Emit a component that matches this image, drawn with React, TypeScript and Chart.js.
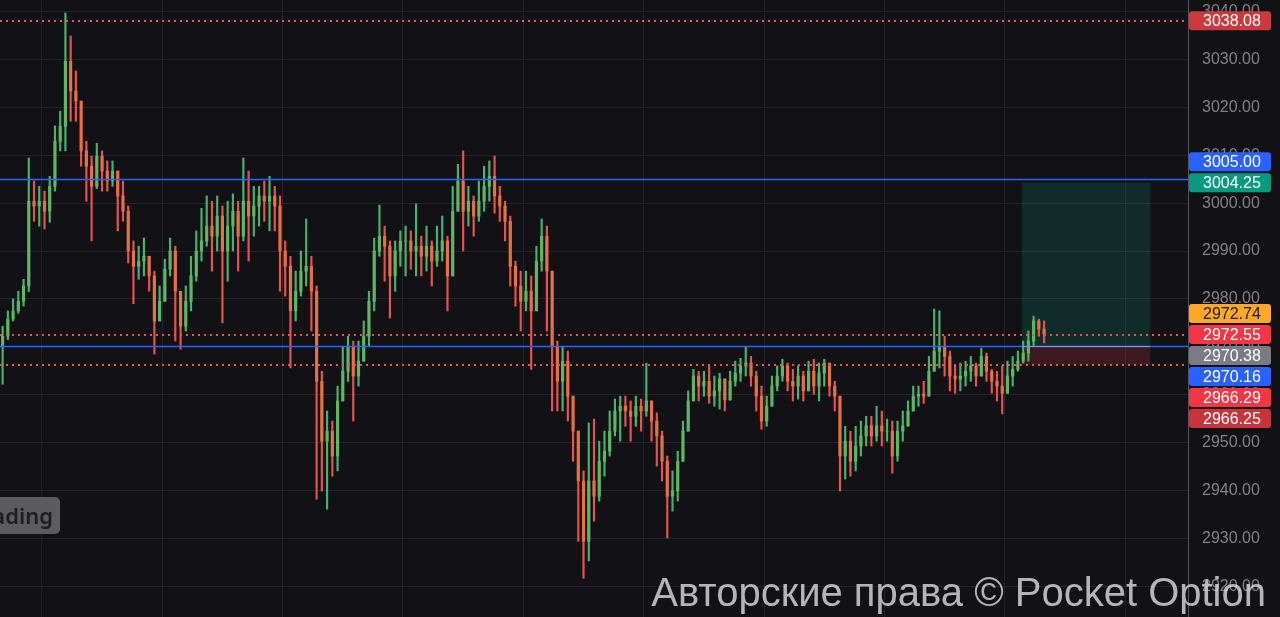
import React, { useEffect, useRef } from "react";
import { Chart, registerables } from "chart.js";

Chart.register(...registerables);

// ---- data ----
const FIRST_OPEN = 2970.0;

const CLOSES = [
  2972.2, 2975.8, 2977.5, 2979.5, 2982.7, 3000.4, 2999.4, 3000.4, 2998.3, 3003.5,
  3012.9, 3016.0, 3029.6, 3023.4, 3021.3, 3010.9, 3007.7, 3003.5, 3009.8, 3006.7,
  3004.6, 3006.7, 3001.5, 2998.3, 2990.0, 2986.8, 2987.9, 2988.9, 2984.8, 2975.4,
  2979.5, 2986.2, 2990.0, 2981.6, 2974.3, 2979.5, 2984.8, 2990.0, 2992.1, 2995.2,
  2993.1, 2997.3, 2990.0, 2995.2, 2998.3, 2993.1, 3000.4, 2997.3, 2999.4, 3001.5,
  3000.4, 3001.5, 2999.4, 2990.0, 2986.8, 2977.5, 2981.6, 2985.8, 2986.8, 2981.6,
  2962.8, 2950.3, 2952.4, 2947.2, 2958.7, 2964.9, 2970.1, 2963.9, 2967.0, 2972.2,
  2979.5, 2990.0, 2993.1, 2991.0, 2984.8, 2990.0, 2992.1, 2992.1, 2990.0, 2991.0,
  2988.9, 2991.0, 2987.9, 2990.0, 2992.1, 2984.8, 2998.3, 3004.6, 2998.3, 3000.4,
  2997.3, 3000.4, 3003.5, 3005.6, 3001.5, 2999.4, 2996.2, 2986.8, 2982.7, 2979.5,
  2981.6, 2977.5, 2987.9, 2993.1, 2985.8, 2970.1, 2962.8, 2967.0, 2959.7, 2952.4,
  2942.0, 2929.4, 2942.0, 2938.8, 2946.1, 2948.2, 2952.4, 2956.6, 2957.6, 2956.6,
  2955.5, 2957.6, 2956.6, 2958.7, 2954.5, 2951.4, 2946.1, 2938.8, 2939.9, 2946.1,
  2952.4, 2958.7, 2963.9, 2961.8, 2962.8, 2959.7, 2960.8, 2963.3, 2958.9, 2962.8,
  2964.5, 2966.0, 2966.6, 2963.9, 2959.7, 2954.5, 2957.6, 2961.8, 2963.9, 2966.0,
  2962.8, 2961.8, 2963.9, 2960.8, 2964.9, 2961.8, 2964.5, 2966.6, 2961.8, 2959.7,
  2947.2, 2950.3, 2946.1, 2949.3, 2951.4, 2953.5, 2951.4, 2953.5, 2952.4, 2952.4,
  2947.2, 2952.4, 2953.5, 2956.6, 2959.7, 2960.1, 2959.7, 2964.9, 2969.1, 2970.1,
  2968.0, 2963.9, 2963.3, 2963.9, 2964.9, 2966.0, 2963.9, 2968.0, 2964.9, 2962.8,
  2961.8, 2960.3, 2963.9, 2965.3, 2967.0, 2968.7, 2971.2, 2975.4, 2973.7, 2972.6,
];

const HIGHS = [
  2974.3, 2977.5, 2980.0, 2981.6, 2984.1, 3009.4, 3004.6, 3003.5, 3002.5, 3005.6,
  3016.1, 3019.2, 3039.7, 3034.9, 3027.6, 3018.2, 3012.9, 3009.8, 3012.5, 3010.9,
  3008.8, 3008.8, 3005.6, 3004.6, 2999.4, 2992.1, 2991.0, 2992.7, 2988.9, 2985.8,
  2982.7, 2988.3, 2992.7, 2991.0, 2981.6, 2982.7, 2988.9, 2994.2, 2998.9, 3001.5,
  3000.4, 3001.5, 2999.4, 3000.4, 3001.9, 3000.4, 3009.4, 3006.7, 3003.5, 3003.5,
  3004.6, 3005.6, 3003.5, 3001.5, 2992.1, 2988.9, 2985.8, 2990.0, 2996.7, 2988.9,
  2982.7, 2964.9, 2956.6, 2954.5, 2961.8, 2970.1, 2972.2, 2971.2, 2971.2, 2975.4,
  2981.6, 2992.7, 2999.6, 2995.2, 2992.1, 2992.1, 2994.2, 2995.2, 2994.2, 2999.8,
  2993.1, 2995.2, 2992.1, 2995.2, 2997.3, 2993.1, 3003.5, 3008.1, 3010.9, 3003.5,
  3001.5, 3004.6, 3007.7, 3008.8, 3009.8, 3003.5, 3000.4, 2997.3, 2987.9, 2985.8,
  2985.8, 2984.8, 2991.0, 2996.7, 2995.2, 2985.8, 2971.2, 2970.1, 2969.1, 2959.7,
  2952.4, 2944.1, 2954.1, 2954.9, 2950.3, 2952.4, 2956.6, 2959.1, 2959.7, 2959.7,
  2958.7, 2959.7, 2959.1, 2966.6, 2958.7, 2956.2, 2952.4, 2947.2, 2944.1, 2948.2,
  2954.5, 2960.8, 2965.3, 2964.9, 2964.9, 2966.0, 2963.9, 2964.5, 2962.8, 2964.9,
  2967.0, 2967.6, 2970.1, 2968.0, 2964.9, 2961.8, 2959.7, 2963.9, 2966.0, 2967.4,
  2966.6, 2965.3, 2966.0, 2964.9, 2967.0, 2967.4, 2966.6, 2967.4, 2966.6, 2962.8,
  2958.7, 2953.4, 2952.4, 2953.4, 2954.5, 2955.5, 2955.5, 2957.6, 2956.6, 2954.9,
  2954.5, 2954.5, 2956.6, 2958.7, 2961.8, 2961.8, 2962.8, 2968.0, 2977.9, 2977.5,
  2972.2, 2969.1, 2966.0, 2966.6, 2967.0, 2968.0, 2966.6, 2969.7, 2968.7, 2965.3,
  2964.9, 2966.0, 2967.0, 2968.0, 2969.1, 2971.2, 2973.3, 2976.4, 2975.8, 2975.4,
];

const LOWS = [
  2962.2, 2971.5, 2975.4, 2977.0, 2978.5, 2981.5, 2996.2, 2995.2, 2994.6, 2996.0,
  3002.5, 3010.9, 3010.9, 3017.1, 3017.1, 3007.7, 3000.4, 2992.1, 3003.0, 3002.5,
  3002.5, 3003.5, 2994.2, 2996.2, 2987.5, 2979.0, 2984.1, 2984.8, 2981.6, 2968.5,
  2975.4, 2980.6, 2984.8, 2971.2, 2969.5, 2973.3, 2977.5, 2983.7, 2987.9, 2991.0,
  2985.8, 2990.0, 2975.0, 2983.7, 2990.0, 2985.8, 2992.1, 2987.9, 2993.1, 2995.2,
  2996.2, 2994.2, 2994.2, 2981.6, 2980.6, 2965.6, 2975.4, 2980.6, 2982.7, 2973.3,
  2938.2, 2939.9, 2936.1, 2943.0, 2944.1, 2959.7, 2962.8, 2954.5, 2961.8, 2967.0,
  2970.1, 2977.5, 2988.9, 2983.7, 2976.0, 2981.6, 2986.8, 2984.8, 2986.2, 2984.8,
  2984.8, 2985.8, 2982.7, 2986.8, 2987.9, 2977.5, 2985.8, 2998.3, 2990.0, 2995.2,
  2993.1, 2996.2, 2998.3, 3000.4, 2997.9, 2996.2, 2992.1, 2982.7, 2978.5, 2973.3,
  2977.5, 2965.3, 2979.5, 2985.8, 2973.3, 2956.6, 2956.6, 2956.6, 2954.5, 2946.1,
  2929.4, 2921.7, 2925.3, 2933.6, 2937.8, 2943.0, 2947.2, 2951.4, 2950.3, 2953.4,
  2950.3, 2953.4, 2952.4, 2955.5, 2950.3, 2945.1, 2942.0, 2930.1, 2935.7, 2937.8,
  2946.1, 2952.4, 2959.7, 2958.7, 2959.7, 2958.2, 2957.6, 2957.0, 2956.6, 2959.7,
  2961.8, 2962.8, 2963.9, 2961.8, 2956.6, 2952.8, 2953.4, 2957.6, 2960.8, 2962.8,
  2960.8, 2958.7, 2959.1, 2958.7, 2962.8, 2960.1, 2958.7, 2961.8, 2959.7, 2956.6,
  2939.9, 2942.4, 2943.0, 2944.1, 2947.2, 2949.3, 2949.3, 2950.3, 2949.3, 2950.3,
  2943.6, 2946.1, 2950.3, 2953.4, 2956.6, 2957.6, 2958.2, 2959.7, 2966.0, 2965.6,
  2963.9, 2960.8, 2960.3, 2960.8, 2961.8, 2962.8, 2961.8, 2964.5, 2962.8, 2960.3,
  2958.7, 2956.0, 2960.8, 2961.8, 2964.9, 2966.6, 2967.0, 2970.1, 2972.2, 2970.8,
];

const Y_TICK_STEP = 10;
const Y_MIN = 2913.6;
const Y_MAX = 3042.4;
const X_SLOTS = 227; // candle slots incl. empty future space
const TIME_GRID = [7.5, 30.5, 53.5, 76.5, 99.5, 122.5, 145.5, 168.5, 191.5, 214.5];

const LEVEL_VALUES = [3038.08, 3005.0, 2972.55, 2970.16, 2966.25];
const LEVEL_KINDS = ["dot", "solid", "dot", "solid", "dot"];

const TAG_VALUES = [3038.08, 3005.0, 3004.25, 2972.74, 2972.55, 2970.38, 2970.16, 2966.29, 2966.25];
const TAG_BG = ["#cc3a3e", "#2962ff", "#089981", "#ffa726", "#f23645", "#7a7b84", "#2962ff", "#f23645", "#c7343b"];
const TAG_FG = ["#ffffff", "#ffffff", "#ffffff", "#1b1b1b", "#ffffff", "#ffffff", "#ffffff", "#ffffff", "#ffffff"];
const TAG_ANCHOR = [true, false, true, false, true, false, false, false, false];

// long position tool: time slots and prices
const POS_START = 194.8;
const POS_END = 219.3;
const POS_TARGET = 3004.25;
const POS_ENTRY = 2970.16;
const POS_STOP = 2966.25;

const WATERMARK = "Авторские права © Pocket Option";
const BADGE = "Trading";

// ---- style ----
const BG = "#121216";
const GRID = "#232329";
const GREEN_WICK = "#46b46e";
const RED_WICK = "#e9534d";
const GREEN_BODY = "#5db763";
const RED_BODY = "#e8713c";
const FONT = "'Liberation Sans', Arial, sans-serif";

export default function App() {
  const ref = useRef<HTMLCanvasElement | null>(null);

  useEffect(() => {
    const canvas = ref.current;
    if (!canvas) return;

    const opens = CLOSES.map((c, i) => (i === 0 ? FIRST_OPEN : CLOSES[i - 1]));
    const up = CLOSES.map((c, i) => c >= opens[i]);
    const wickData = CLOSES.map((c, i) => ({
      x: i,
      y: [Math.min(LOWS[i], opens[i], c), Math.max(HIGHS[i], opens[i], c)],
    }));
    const bodyData = CLOSES.map((c, i) => ({ x: i, y: [opens[i], c] }));

    const overlay = {
      id: "overlay",
      beforeDraw(chart: any) {
        const ctx = chart.ctx;
        ctx.save();
        ctx.fillStyle = BG;
        ctx.fillRect(0, 0, chart.width, chart.height);
        ctx.restore();
      },
      beforeDatasetsDraw(chart: any) {
        const ctx = chart.ctx;
        const xs = chart.scales.x;
        const ys = chart.scales.y;
        const x0 = xs.getPixelForValue(POS_START);
        const x1 = xs.getPixelForValue(POS_END);
        const yT = ys.getPixelForValue(POS_TARGET);
        const yE = ys.getPixelForValue(POS_ENTRY);
        const yS = ys.getPixelForValue(POS_STOP);
        ctx.save();
        ctx.fillStyle = "rgba(8,153,129,0.2)";
        ctx.fillRect(x0, yT, x1 - x0, yE - yT);
        ctx.fillStyle = "rgba(242,54,69,0.2)";
        ctx.fillRect(x0, yE, x1 - x0, yS - yE);
        ctx.restore();
      },
      afterDatasetsDraw(chart: any) {
        const ctx = chart.ctx;
        const ys = chart.scales.y;
        const xs = chart.scales.x;
        const { left, right } = chart.chartArea;
        ctx.save();
        LEVEL_VALUES.forEach((v, i) => {
          ctx.beginPath();
          if (LEVEL_KINDS[i] === "dot") {
            const y = Math.round(ys.getPixelForValue(v));
            ctx.setLineDash([2, 4]);
            ctx.strokeStyle = "#e8534c";
            ctx.lineWidth = 2;
            ctx.moveTo(left, y);
            ctx.lineTo(right, y);
          } else {
            const y = Math.round(ys.getPixelForValue(v)) + 0.5;
            ctx.setLineDash([]);
            ctx.strokeStyle = "#2962ff";
            ctx.lineWidth = 1.3;
            ctx.moveTo(left, y);
            ctx.lineTo(right, y);
          }
          ctx.stroke();
        });
        // entry line of position tool
        ctx.setLineDash([]);
        ctx.strokeStyle = "rgba(200,200,205,0.55)";
        ctx.lineWidth = 1;
        const yE = Math.round(ys.getPixelForValue(POS_ENTRY)) + 0.5;
        ctx.beginPath();
        ctx.moveTo(xs.getPixelForValue(POS_START), yE);
        ctx.lineTo(xs.getPixelForValue(POS_END), yE);
        ctx.stroke();
        ctx.restore();
      },
      afterDraw(chart: any) {
        const ctx = chart.ctx;
        const ys = chart.scales.y;
        const right = chart.chartArea.right;
        const TAG_H = 19;
        const PITCH = 21;
        // cluster & stack price tags
        const trueY = TAG_VALUES.map((v) => ys.getPixelForValue(v));
        const posY = trueY.slice();
        let start = 0;
        for (let i = 1; i <= TAG_VALUES.length; i++) {
          if (i === TAG_VALUES.length || trueY[i] - trueY[i - 1] >= PITCH) {
            let a = start;
            for (let k = start; k < i; k++) if (TAG_ANCHOR[k]) { a = k; break; }
            for (let k = start; k < i; k++) posY[k] = trueY[a] + (k - a) * PITCH;
            start = i;
          }
        }
        ctx.save();
        ctx.font = `16px ${FONT}`;
        ctx.textBaseline = "middle";
        ctx.textAlign = "left";
        TAG_VALUES.forEach((v, i) => {
          const x = right + 1;
          const y = posY[i] - TAG_H / 2;
          ctx.fillStyle = TAG_BG[i];
          ctx.beginPath();
          (ctx as any).roundRect(x, y, 82, TAG_H, 3);
          ctx.fill();
          ctx.fillStyle = TAG_FG[i];
          ctx.fillText(v.toFixed(2), right + 15, posY[i] + 1);
        });

        // badge at lower-left
        ctx.fillStyle = "#5b5b60";
        ctx.beginPath();
        (ctx as any).roundRect(-20, 497, 80, 37, 5);
        ctx.fill();
        ctx.fillStyle = "#1e1e22";
        ctx.font = `600 22px 'Noto Sans', sans-serif`;
        ctx.textAlign = "right";
        ctx.textBaseline = "alphabetic";
        ctx.fillText(BADGE, 53, 524);

        // watermark
        ctx.font = `40px ${FONT}`;
        ctx.fillStyle = "rgba(222,222,226,0.8)";
        ctx.textAlign = "right";
        ctx.fillText(WATERMARK, 1266, 606);
        ctx.restore();
      },
    };

    const chart = new Chart(canvas, {
      type: "bar",
      data: {
        datasets: [
          {
            label: "wick",
            data: wickData as any,
            backgroundColor: up.map((u) => (u ? GREEN_WICK : RED_WICK)),
            barThickness: 1.5,
            grouped: false,
            order: 2,
          } as any,
          {
            label: "body",
            data: bodyData as any,
            backgroundColor: up.map((u) => (u ? GREEN_BODY : RED_BODY)),
            barThickness: 2.5,
            grouped: false,
            order: 1,
          } as any,
        ],
      },
      options: {
        responsive: false,
        animation: false,
        devicePixelRatio: 1,
        layout: { padding: 0 },
        plugins: { legend: { display: false }, tooltip: { enabled: false } },
        scales: {
          x: {
            type: "linear",
            min: -0.5,
            max: X_SLOTS - 0.5,
            offset: false,
            grid: { color: GRID, drawTicks: false, offset: false },
            border: { display: false },
            ticks: { display: false },
            afterBuildTicks: (s: any) => {
              s.ticks = TIME_GRID.map((v) => ({ value: v }));
            },
            afterFit: (s: any) => {
              s.height = 0;
              s.paddingLeft = 0;
              s.paddingRight = 0;
            },
          } as any,
          y: {
            type: "linear",
            position: "right",
            min: Y_MIN,
            max: Y_MAX,
            grid: { color: GRID, drawTicks: false },
            border: { color: "#55555b", width: 1 },
            ticks: {
              stepSize: Y_TICK_STEP,
              includeBounds: false,
              padding: 14,
              color: "#808086",
              font: { family: FONT, size: 16 },
              callback: (v: any) => Number(v).toFixed(2),
            },
            afterFit: (s: any) => {
              s.width = 92;
              s.paddingTop = 0;
              s.paddingBottom = 0;
            },
          } as any,
        },
      },
      plugins: [overlay],
    });

    return () => chart.destroy();
  }, []);

  return (
    <div style={{ position: "fixed", left: 0, top: 0, width: 1280, height: 617, background: BG }}>
      <canvas ref={ref} width={1280} height={617} style={{ display: "block" }} />
    </div>
  );
}
